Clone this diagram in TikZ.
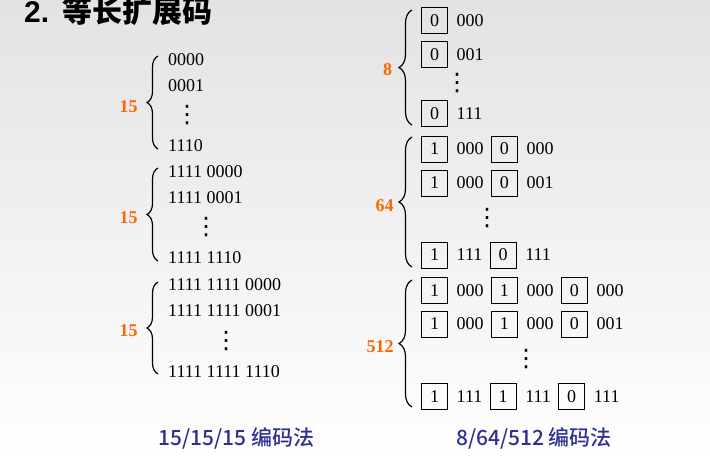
\documentclass[tikz,border=0pt]{standalone}
\usepackage{fontspec}
\setmainfont{Liberation Serif}
\newfontfamily\cjk{Noto Sans CJK SC}
\newfontfamily\capfont{Noto Sans CJK SC Medium}
\newfontfamily\headfont{Liberation Sans}
\newfontfamily\dotfont{DejaVu Sans}
\usetikzlibrary{positioning,decorations.pathreplacing}
\definecolor{countorange}{RGB}{255,102,0}
\definecolor{captionblue}{RGB}{46,49,146}

\tikzset{
  code/.style={inner sep=0, font=\fontsize{18}{20}\selectfont},
  bitbox/.style={draw, line width=1pt, minimum size=26pt, inner sep=0, font=\fontsize{18}{20}\selectfont},
  count/.style={inner sep=0, text=countorange, font=\fontsize{18}{20}\selectfont\bfseries},
  vdot/.style={inner sep=0, font=\fontsize{24}{24}\selectfont\dotfont},
  lbrace/.style={decorate, decoration={brace, amplitude=11pt}, line width=1.2pt},
  rbrace/.style={decorate, decoration={brace, amplitude=13pt}, line width=1.2pt},
  caption/.style={inner sep=0, text=captionblue, font=\fontsize{21}{24}\selectfont\capfont}
}

\begin{document}
\begin{tikzpicture}[x=1pt, y=-1pt, auto]
            \useasboundingbox (0,0) rectangle (710,461);
            \shade[top color=gray!22, bottom color=white] (0,0) rectangle (710,461);

            \node (head) at (24,22) [anchor=base west, inner sep=0, font=\fontsize{30}{32}\selectfont\bfseries]
            {{\headfont 2.}\hspace{13pt}{\cjk 等长扩展码}};

            \node[code] (a1) [anchor=west] at (168,60) {0000};
            \node[code] (a2) [anchor=west] at (168,86) {0001};
            \node[vdot] (a3) at (187,115) {⋮};
            \node[code] (a4) [anchor=west] at (168,146) {1110};
            \coordinate (ta) at (158,56);
            \coordinate (ba) at (158,149);
            \draw[lbrace] (ba) -- (ta);
            \node[count] (na) at (128.5,106.5) {15};

            \node[code] (b1) [anchor=west] at (168,172) {1111 0000};
            \node[code] (b2) [anchor=west] at (168,198) {1111 0001};
            \node[vdot] (b3) at (206,227) {⋮};
            \node[code] (b4) [anchor=west] at (168,258) {1111 1110};
            \coordinate (tb) at (158,168);
            \coordinate (bb) at (158,261);
            \draw[lbrace] (bb) -- (tb);
            \node[count] (nb) at (128.5,218) {15};

            \node[code] (c1) [anchor=west] at (168,285) {1111 1111 0000};
            \node[code] (c2) [anchor=west] at (168,311) {1111 1111 0001};
            \node[vdot] (c3) at (226,341) {⋮};
            \node[code] (c4) [anchor=west] at (168,372) {1111 1111 1110};
            \coordinate (tc) at (158,282);
            \coordinate (bc) at (158,374);
            \draw[lbrace] (bc) -- (tc);
            \node[count] (nc) at (128.5,331) {15};

            \node[bitbox] (p1) at (434.5,20.5) {0};
            \node[code] (p1t) [right=8.5pt of p1] {000};
            \node[bitbox] (p2) at (434.5,54.5) {0};
            \node[code] (p2t) [right=8.5pt of p2] {001};
            \node[vdot] (p3) at (457,83) {⋮};
            \node[bitbox] (p4) at (434.5,113.5) {0};
            \node[code] (p4t) [right=8.5pt of p4] {111};
            \coordinate (tp) at (412,10);
            \coordinate (bp) at (412,125);
            \draw[rbrace] (bp) -- (tp);
            \node[count] (np) at (387.5,70) {8};

            \node[bitbox] (q1) at (434.5,149) {1};
            \node[code] (q1t) [right=8.5pt of q1] {000};
            \node[bitbox] (q1b) [right=7pt of q1t] {0};
            \node[code] (q1bt) [right=8.5pt of q1b] {000};
            \node[bitbox] (q2) at (434.5,183) {1};
            \node[code] (q2t) [right=8.5pt of q2] {000};
            \node[bitbox] (q2b) [right=7pt of q2t] {0};
            \node[code] (q2bt) [right=8.5pt of q2b] {001};
            \node[vdot] (q3) at (487,218) {⋮};
            \node[bitbox] (q4) at (434.5,255) {1};
            \node[code] (q4t) [right=8.5pt of q4] {111};
            \node[bitbox] (q4b) [right=7pt of q4t] {0};
            \node[code] (q4bt) [right=8.5pt of q4b] {111};
            \coordinate (tq) at (412,137);
            \coordinate (bq) at (412,267);
            \draw[rbrace] (bq) -- (tq);
            \node[count] (nq) at (384.5,206) {64};

            \node[bitbox] (r1) at (434.5,290.5) {1};
            \node[code] (r1t) [right=8.5pt of r1] {000};
            \node[bitbox] (r1b) [right=7pt of r1t] {1};
            \node[code] (r1bt) [right=8.5pt of r1b] {000};
            \node[bitbox] (r1c) [right=7pt of r1bt] {0};
            \node[code] (r1ct) [right=8.5pt of r1c] {000};
            \node[bitbox] (r2) at (434.5,324) {1};
            \node[code] (r2t) [right=8.5pt of r2] {000};
            \node[bitbox] (r2b) [right=7pt of r2t] {1};
            \node[code] (r2bt) [right=8.5pt of r2b] {000};
            \node[bitbox] (r2c) [right=7pt of r2bt] {0};
            \node[code] (r2ct) [right=8.5pt of r2c] {001};
            \node[vdot] (r3) at (526,359) {⋮};
            \node[bitbox] (r4) at (434.5,396.5) {1};
            \node[code] (r4t) [right=8.5pt of r4] {111};
            \node[bitbox] (r4b) [right=7pt of r4t] {1};
            \node[code] (r4bt) [right=8.5pt of r4b] {111};
            \node[bitbox] (r4c) [right=7pt of r4bt] {0};
            \node[code] (r4ct) [right=8.5pt of r4c] {111};
            \coordinate (tr) at (412,280);
            \coordinate (br) at (412,407);
            \draw[rbrace] (br) -- (tr);
            \node[count] (nr) at (380,347) {512};

            \node[caption] (capl) at (236.5,438) {15/15/15 编码法};
            \node[caption] (capr) at (534,438.5) {8/64/512 编码法};
            \end{tikzpicture}
\end{document}
